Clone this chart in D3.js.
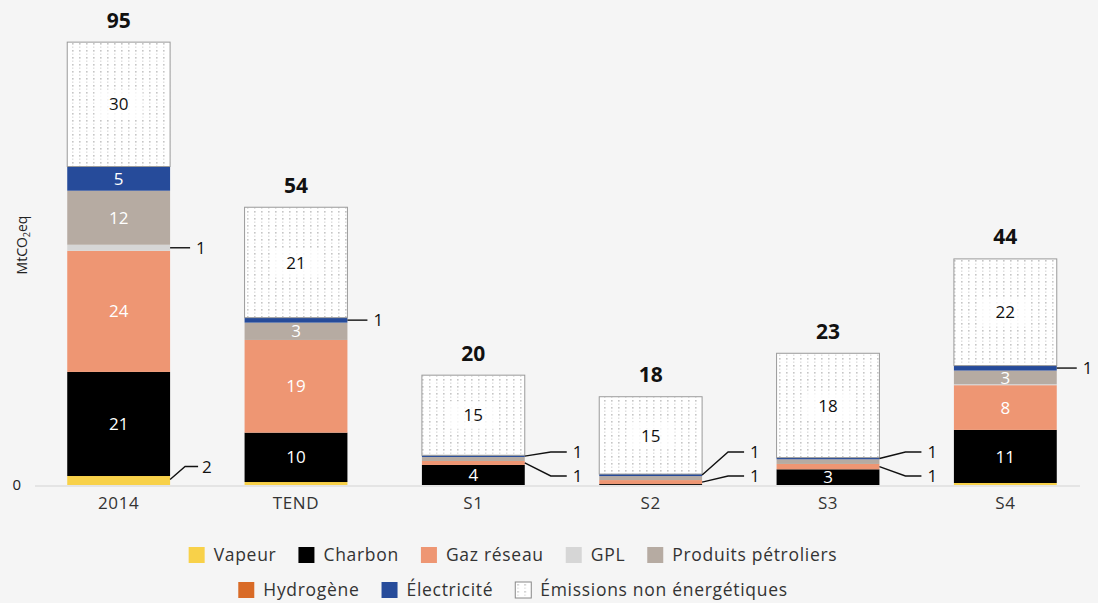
<!DOCTYPE html>
<html><head><meta charset="utf-8">
<script src="https://cdn.jsdelivr.net/npm/d3@7/dist/d3.min.js"></script>
<style>
html,body{margin:0;padding:0;background:#f5f5f5;}
svg{display:block;font-family:"Open Sans",Lato,sans-serif;}
</style></head>
<body>
<svg id="chart" width="1098" height="603"></svg>
<script>
// ---- data (Mt CO2eq, bar heights) ----
const categories = ["2014", "TEND", "S1", "S2", "S3", "S4"];
const vapeur      = [1.93, 0.64, 0,    0,    0,    0.43];
const charbon     = [22.35, 10.6, 4.3,  0.2,  3.37, 11.4];
const gazReseau   = [26.0, 19.9, 0.86, 0.86, 1.15, 9.6];
const gpl         = [1.3,  0,    0,    0,    0,    0.2];
const produitsPet = [11.6, 3.72, 0.86, 0.86, 1.0,  2.94];
const hydrogene   = [0,    0,    0,    0,    0,    0];
const electricite = [5.2,  1.07, 0.36, 0.43, 0.36, 1.07];
const nonEnerg    = [26.7, 23.7, 17.2, 16.6, 22.4, 22.9];
// displayed labels
const lblVapeur  = ["2", "", "", "", "", ""];
const lblCharbon = ["21", "10", "4", "", "3", "11"];
const lblGaz     = ["24", "19", "1", "1", "1", "8"];
const lblGpl     = ["1", "", "", "", "", ""];
const lblPP      = ["12", "3", "", "", "", "3"];
const lblH2      = ["", "", "", "", "", ""];
const lblElec    = ["5", "1", "1", "1", "1", "1"];
const lblNon     = ["30", "21", "15", "15", "18", "22"];
const totals     = ["95", "54", "20", "18", "23", "44"];
const yTicks = [0];

const series = [
  {name: "Vapeur", values: vapeur, labels: lblVapeur, color: "#f8d149"},
  {name: "Charbon", values: charbon, labels: lblCharbon, color: "#000000"},
  {name: "Gaz réseau", values: gazReseau, labels: lblGaz, color: "#ee9673"},
  {name: "GPL", values: gpl, labels: lblGpl, color: "#d6d6d6"},
  {name: "Produits pétroliers", values: produitsPet, labels: lblPP, color: "#b6aba2"},
  {name: "Hydrogène", values: hydrogene, labels: lblH2, color: "#d96b27"},
  {name: "Électricité", values: electricite, labels: lblElec, color: "#264b9a"},
  {name: "Émissions non énergétiques", values: nonEnerg, labels: lblNon, color: "url(#dots)", pattern: true}
];
const legendRows = [
  ["Vapeur", "Charbon", "Gaz réseau", "GPL", "Produits pétroliers"],
  ["Hydrogène", "Électricité", "Émissions non énergétiques"]
];

const svg = d3.select("#chart");
const defs = svg.append("defs");
const pat = defs.append("pattern").attr("id", "dots").attr("patternUnits", "userSpaceOnUse")
  .attr("width", 7).attr("height", 7);
pat.append("rect").attr("width", 7).attr("height", 7).attr("fill", "#ffffff");
pat.append("rect").attr("x", 2).attr("y", 1).attr("width", 1.6).attr("height", 1.6).attr("fill", "#c6c6c6");
pat.append("rect").attr("x", 2).attr("y", 4.5).attr("width", 1.4).attr("height", 1.4).attr("fill", "#dedede");

const x = d3.scaleBand().domain(categories).range([30, 1094]).paddingInner(0.42).paddingOuter(0.21);
const y = d3.scaleLinear().domain([0, 95]).range([485, 42.5]);
const base = y(0);

// baseline
svg.append("line").attr("x1", 35).attr("x2", 1080).attr("y1", base + 1).attr("y2", base + 1)
  .attr("stroke", "#dedede").attr("stroke-width", 1.5);

// y axis (only 0)
const yAxis = svg.append("g").attr("transform", "translate(30,0)")
  .call(d3.axisLeft(y).tickValues(yTicks).tickSize(0).tickPadding(9).tickFormat(d3.format("d")));
yAxis.select(".domain").remove();
yAxis.selectAll("text").attr("font-size", 15).attr("fill", "#222").attr("font-family", "'Open Sans', sans-serif");

// y title
const yt = svg.append("text").attr("transform", "translate(27,245) rotate(-90)")
  .attr("text-anchor", "middle").attr("font-size", 14).attr("fill", "#222");
yt.append("tspan").text("MtCO");
yt.append("tspan").attr("font-size", 9).attr("dy", 3).text("2");
yt.append("tspan").attr("dy", -3).text("eq");

// x axis
const xAxis = svg.append("g").attr("transform", `translate(0,${base})`)
  .call(d3.axisBottom(x).tickSize(0).tickPadding(12));
xAxis.select(".domain").remove();
xAxis.selectAll("text").attr("font-size", 17).attr("letter-spacing", 0.6).attr("fill", "#333")
  .attr("font-family", "'Open Sans', sans-serif");

// stacks
const stackG = svg.append("g");
categories.forEach((cat, i) => {
  let cum = 0;
  const x0 = x(cat), w = x.bandwidth(), xr = x0 + w;
  const leaders = [];
  const segs = [];
  series.forEach(s => {
    const v = s.values[i];
    const y0 = cum, y1 = cum + v;
    cum = y1;
    if (v <= 0) return;
    segs.push({s, y0, y1, lbl: s.labels[i]});
  });
  segs.forEach(g => {
    const top = y(g.y1), bot = y(g.y0);
    const r = stackG.append("rect").attr("x", x0).attr("y", top).attr("width", w).attr("height", bot - top)
      .attr("fill", g.s.color);
    if (g.s.pattern) r.attr("stroke", "#9a9a9a").attr("stroke-width", 1);
  });
  segs.forEach(g => {
    if (!g.lbl) return;
    const top = y(g.y1), bot = y(g.y0), h = bot - top, mid = (top + bot) / 2;
    if (h >= 12) {
      if (g.s.pattern) {
        stackG.append("rect").attr("x", x0 + w / 2 - 24).attr("y", mid - 14).attr("width", 48).attr("height", 28)
          .attr("fill", "#ffffff").attr("opacity", 0.8);
      }
      stackG.append("text").attr("x", x0 + w / 2).attr("y", mid).attr("dy", "0.36em")
        .attr("text-anchor", "middle").attr("font-size", 17).attr("font-weight", 500)
        .attr("fill", g.s.pattern ? "#111" : "#ffffff").text(g.lbl);
    } else {
      leaders.push({mid, lbl: g.lbl});
    }
  });
  leaders.sort((a, b) => a.mid - b.mid);
  const drawLeader = (pts, tx, ty, txt) => {
    stackG.append("path").attr("d", d3.line()(pts)).attr("fill", "none")
      .attr("stroke", "#111").attr("stroke-width", 1.4);
    stackG.append("text").attr("x", tx).attr("y", ty).attr("dy", "0.36em")
      .attr("font-size", 17).attr("font-weight", 500).attr("fill", "#111").text(txt);
  };
  const paired = leaders.length === 2 && Math.abs(leaders[1].mid - leaders[0].mid) < 20;
  if (paired) {
    const ys = [base - 33, base - 9];
    leaders.forEach((l, k) => {
      drawLeader([[xr, l.mid], [xr + 26, ys[k]], [xr + 42, ys[k]]], xr + 48, ys[k], l.lbl);
    });
  } else {
    leaders.forEach(l => {
      if (base - l.mid < 10) {
        const ty = l.mid - 14;
        drawLeader([[xr, l.mid - 1], [xr + 15, ty], [xr + 28, ty]], xr + 32, ty, l.lbl);
      } else {
        drawLeader([[xr, l.mid], [xr + 20, l.mid]], xr + 26, l.mid, l.lbl);
      }
    });
  }
  // total
  stackG.append("text").attr("x", x0 + w / 2).attr("y", y(cum) - 22).attr("dy", "0.36em")
    .attr("text-anchor", "middle").attr("font-size", 21).attr("font-weight", 700).attr("fill", "#111")
    .text(totals[i]);
});

// legend
const legY = [555, 590];
const gap = 22;
legendRows.forEach((row, r) => {
  const g = svg.append("g");
  let cx = 0;
  row.forEach(name => {
    const s = series.find(d => d.name === name);
    const it = g.append("g").attr("transform", `translate(${cx},0)`);
    it.append("rect").attr("x", 0).attr("y", -8).attr("width", 16).attr("height", 16)
      .attr("fill", s.color).attr("stroke", s.pattern ? "#888" : "none").attr("stroke-width", 1);
    const t = it.append("text").attr("x", 25).attr("y", 0).attr("dy", "0.35em")
      .attr("font-size", 17.5).attr("letter-spacing", 0.7).attr("fill", "#333").text(name);
    cx += 25 + t.node().getComputedTextLength() + gap;
  });
  const total = cx - gap;
  g.attr("transform", `translate(${513 - total / 2},${legY[r]})`);
});
</script>
</body></html>
